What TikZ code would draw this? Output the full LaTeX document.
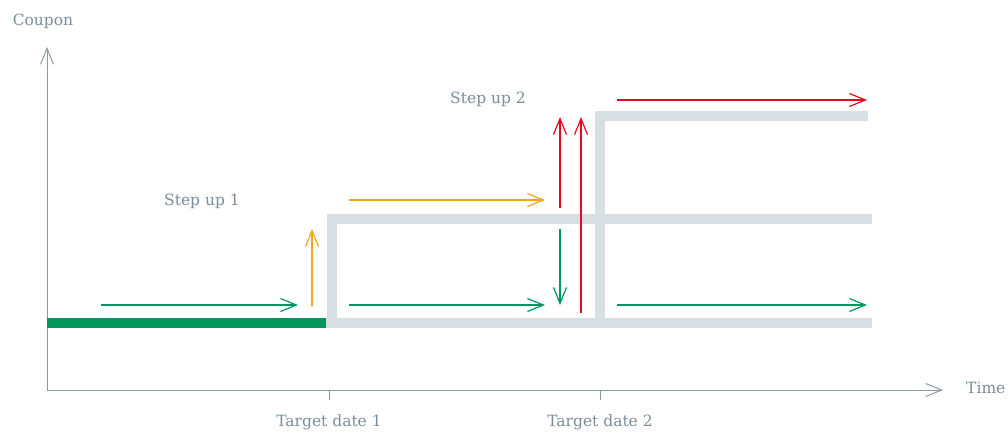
\documentclass[tikz,border=0pt]{standalone}
\usepackage{fontspec}
\setmainfont{DejaVu Serif}
\usetikzlibrary{arrows.meta}

\definecolor{axisgrey}{HTML}{8A9AA5}
\definecolor{labelgrey}{HTML}{7A8D99}
\definecolor{bargrey}{HTML}{D8DFE3}
\definecolor{cpngreen}{HTML}{00965E}
\definecolor{cpnorange}{HTML}{F4A416}
\definecolor{cpnred}{HTML}{E30B1C}

\tikzset{
  labeltext/.style={text=labelgrey, font=\fontsize{15.5}{18}\selectfont, inner sep=0pt},
  flow/.style={line width=1.2pt, -{Straight Barb[length=16pt,width=13pt,line width=1.2pt]}},
  bar/.style={bargrey, line width=10.5pt},
}

\begin{document}
\begin{tikzpicture}[x=1pt, y=-1pt]
\useasboundingbox (0,0) rectangle (1008,432);

% axes
\coordinate (ytop) at (47,47);
\coordinate (origin) at (47,390);
\coordinate (xend) at (943,390);
\draw[axisgrey, line width=1pt, {Straight Barb[length=16pt,width=13pt]}-{Straight Barb[length=16pt,width=13pt]}]
  (ytop) -- (origin) -- (xend);
\node[labeltext] (coupon) at (43,21) {Coupon};
\node[labeltext, anchor=west] (time) at (966,388) {Time};
\foreach \x/\n in {329/1, 600/2}
{
\draw[axisgrey, line width=1pt] (\x,390) -- (\x,400);
\node[labeltext] (date\n) at (\x,422) {Target date \n};
}

% coupon levels
\draw[bar] (326,323) -- (872,323);
\draw[bar] (332,323) -- (332,219) -- (872,219);
\draw[bar] (600,323) -- (600,116) -- (868,116);
\draw[cpngreen, line width=10.5pt] (47,323) -- (326,323);

\node[labeltext] (step1) at (202,201) {Step up 1};
\node[labeltext] (step2) at (488,99) {Step up 2};

% green: coupon stays
\foreach \i/\a/\b in {1/101/298, 2/349/545, 3/617/867}
{
\coordinate (keep\i s) at (\a,305);
\coordinate (keep\i e) at (\b,305);
\draw[flow, cpngreen] (keep\i s) -- (keep\i e);
}
\coordinate (down s) at (560,229);
\coordinate (down e) at (560,305);
\draw[flow, cpngreen] (down s) -- (down e);

% orange: first step up
\coordinate (up1 s) at (312,306);
\coordinate (up1 e) at (312,229);
\coordinate (mid s) at (349,200);
\coordinate (mid e) at (545,200);
\draw[flow, cpnorange] (up1 s) -- (up1 e);
\draw[flow, cpnorange] (mid s) -- (mid e);

% red: second step up
\coordinate (up2a s) at (560,208);
\coordinate (up2a e) at (560,117);
\coordinate (up2b s) at (581,313);
\coordinate (up2b e) at (581,117);
\coordinate (top s) at (617,100);
\coordinate (top e) at (867,100);
\draw[flow, cpnred] (up2a s) -- (up2a e);
\draw[flow, cpnred] (up2b s) -- (up2b e);
\draw[flow, cpnred] (top s) -- (top e);
\end{tikzpicture}
\end{document}
